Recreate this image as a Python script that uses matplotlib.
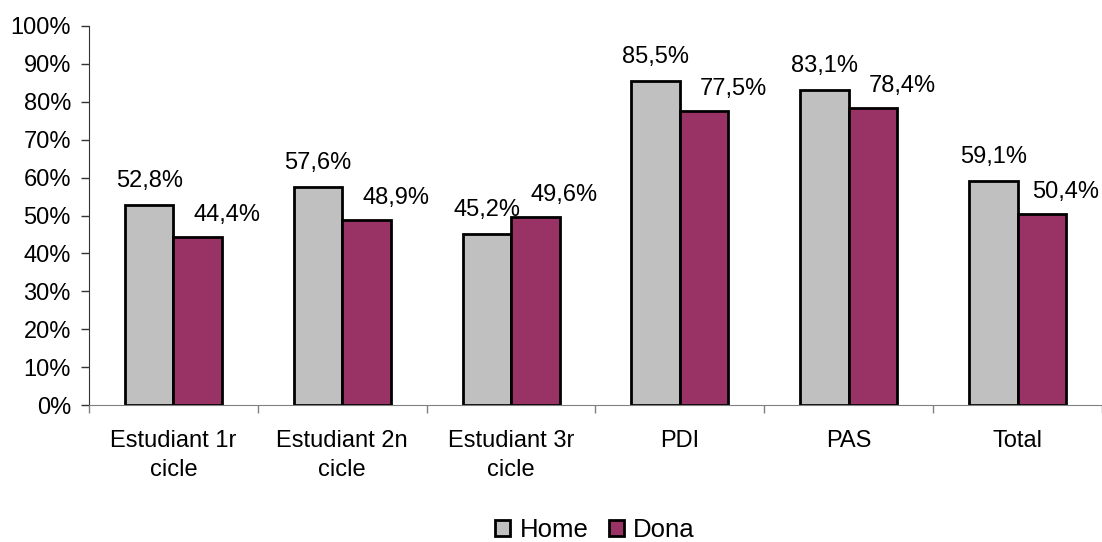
import matplotlib
matplotlib.use("Agg")
import matplotlib.pyplot as plt
from matplotlib.patches import Patch
import numpy as np

categories = ["Estudiant 1r\ncicle", "Estudiant 2n\ncicle", "Estudiant 3r\ncicle",
              "PDI", "PAS", "Total"]
home = [52.8, 57.6, 45.2, 85.5, 83.1, 59.1]
dona = [44.4, 48.9, 49.6, 77.5, 78.4, 50.4]
yticks = list(range(0, 101, 10))

HOME_COLOR = "#C0C0C0"
DONA_COLOR = "#993366"

plt.rcParams["font.family"] = ["Liberation Sans", "DejaVu Sans"]
FS = 17

fig = plt.figure(figsize=(11.02, 5.42), dpi=100)
ax = fig.add_axes([89 / 1102, 137 / 542, 1 - 89 / 1102, 379 / 542])

x = np.arange(len(categories))
w = 0.2875
ax.bar(x - w / 2, home, width=w, color=HOME_COLOR, edgecolor="black", linewidth=2.0, zorder=3)
ax.bar(x + w / 2, dona, width=w, color=DONA_COLOR, edgecolor="black", linewidth=2.0, zorder=3)

def fmt(v):
    return f"{v:.1f}".replace(".", ",") + "%"

for xi, v in zip(x, home):
    ax.annotate(fmt(v), (xi - w / 2, v), xytext=(0, 13), textcoords="offset points",
                ha="center", va="baseline", fontsize=FS)
for i, (xi, v) in enumerate(zip(x, dona)):
    # the last label is pulled in a little so it stays inside the chart area
    dx = 17 if i == len(dona) - 1 else 21
    ax.annotate(fmt(v), (xi + w / 2, v), xytext=(dx, 11.5), textcoords="offset points",
                ha="center", va="baseline", fontsize=FS)

ax.set_xlim(-0.5, len(categories) - 0.5)
ax.set_ylim(0, 100)
ax.set_yticks(yticks)
ax.set_yticklabels([f"{t}%" for t in yticks], fontsize=FS)
ax.tick_params(axis="y", length=6, width=1, color="#333333", pad=7)

# boundary ticks between categories, labels at category centres
ax.set_xticks(np.arange(-0.5, len(categories), 1.0))
ax.set_xticklabels([])
ax.tick_params(axis="x", which="major", length=6, width=1, color="#808080")
ax.set_xticks(x, minor=True)
ax.set_xticklabels(categories, minor=True, fontsize=FS, linespacing=1.4)
ax.tick_params(axis="x", which="minor", length=0, pad=18)

for s in ("top", "right"):
    ax.spines[s].set_visible(False)
ax.spines["left"].set_color("#333333")
ax.spines["bottom"].set_color("#808080")
ax.spines["bottom"].set_zorder(4)

handles = [Patch(facecolor=HOME_COLOR, edgecolor="black", linewidth=2.0, label="Home"),
           Patch(facecolor=DONA_COLOR, edgecolor="black", linewidth=2.0, label="Dona")]
fig.legend(handles=handles, loc="center", bbox_to_anchor=(595 / 1102, 12 / 542),
           ncol=2, frameon=False, fontsize=18.5, handlelength=0.6, handleheight=0.6,
           handletextpad=0.35, columnspacing=0.8, borderpad=0)

fig.savefig("out.png", dpi=100)
